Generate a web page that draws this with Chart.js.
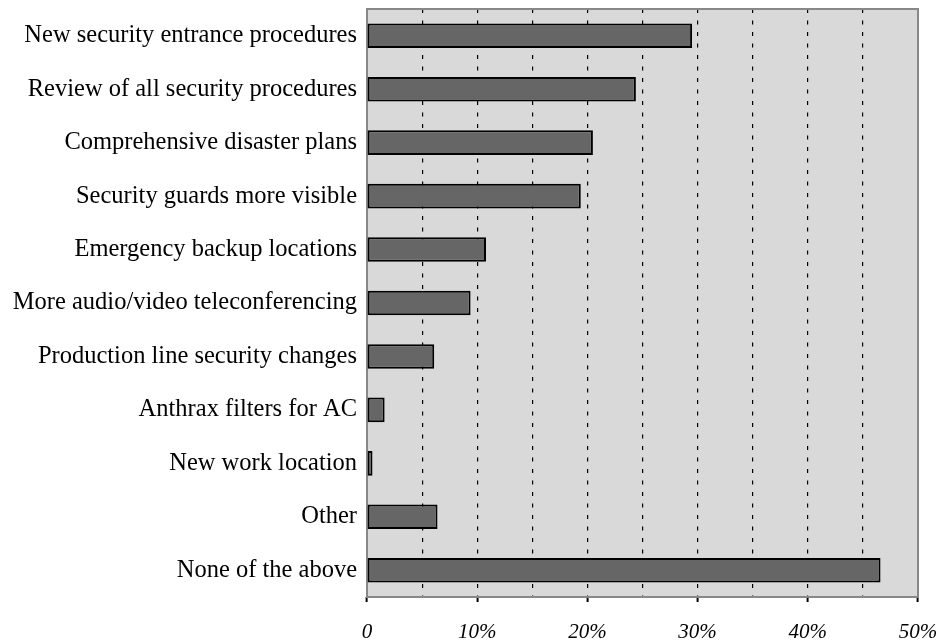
<!DOCTYPE html>
<html>
<head>
<meta charset="utf-8">
<script src="https://cdn.jsdelivr.net/npm/chart.js@4/dist/chart.umd.min.js"></script>
<style>
  html, body { margin: 0; padding: 0; background: #fff; }
  #wrap { width: 941px; height: 643px; }
</style>
</head>
<body>
<div id="wrap"><canvas id="chart" width="941" height="643"></canvas></div>
<script>
// Data (percent of respondents)
const categories = [
  'New security entrance procedures',
  'Review of all security procedures',
  'Comprehensive disaster plans',
  'Security guards more visible',
  'Emergency backup locations',
  'More audio/video teleconferencing',
  'Production line security changes',
  'Anthrax filters for AC',
  'New work location',
  'Other',
  'None of the above'
];
const values = [29.5, 24.4, 20.5, 19.4, 10.8, 9.4, 6.1, 1.6, 0.5, 6.4, 46.6];
const xTickLabels = ['0', '10%', '20%', '30%', '40%', '50%'];

// gray plot area with a gray frame
const plotBackground = {
  id: 'plotBackground',
  beforeDraw(chart) {
    const { ctx, chartArea: a } = chart;
    ctx.save();
    ctx.fillStyle = '#d9d9d9';
    ctx.fillRect(a.left, a.top, a.right - a.left, a.bottom - a.top);
    ctx.restore();
  },
  beforeDatasetsDraw(chart) {
    const { ctx, chartArea: a } = chart;
    ctx.save();
    ctx.strokeStyle = '#888888';
    ctx.lineWidth = 2;
    ctx.strokeRect(a.left, a.top, a.right - a.left, a.bottom - a.top);
    ctx.restore();
  }
};

const ctx = document.getElementById('chart').getContext('2d');
new Chart(ctx, {
  type: 'bar',
  data: {
    labels: categories,
    datasets: [{
      data: values,
      backgroundColor: '#666666',
      borderColor: '#000000',
      borderWidth: 2,
      borderSkipped: false,
      categoryPercentage: 1,
      barPercentage: 0.46
    }]
  },
  options: {
    indexAxis: 'y',
    responsive: false,
    animation: false,
    layout: { padding: { top: 9, right: 23, left: 0, bottom: 0 } },
    plugins: {
      legend: { display: false },
      tooltip: { enabled: false }
    },
    scales: {
      x: {
        min: 0,
        max: 50,
        afterFit: s => {
          s.height = 46;
          s.paddingLeft = 0;
          s.paddingRight = 0;
        },
        ticks: {
          stepSize: 5,
          autoSkip: false,
          maxRotation: 0,
          padding: 18,
          color: '#000',
          font: { family: 'Liberation Serif', size: 21, style: 'italic' },
          callback: v => (v % 10 === 0 ? xTickLabels[v / 10] : '')
        },
        border: { display: false, dash: [4, 7.5] },
        grid: {
          color: c => (c.tick && (c.tick.value === 0 || c.tick.value === 50) ? 'rgba(0,0,0,0)' : '#000'),
          lineWidth: 1.2,
          tickLength: 5,
          tickColor: c => (c.tick && c.tick.value % 10 === 0 ? '#000' : 'rgba(0,0,0,0)'),
          tickWidth: 2
        }
      },
      y: {
        afterFit: s => {
          s.width = 367;
          s.paddingTop = 0;
          s.paddingBottom = 0;
        },
        ticks: {
          padding: 10,
          color: '#000',
          font: { family: 'Liberation Serif', size: 24.5 }
        },
        border: { display: false },
        grid: { display: false, drawTicks: false }
      }
    }
  },
  plugins: [plotBackground]
});
</script>
</body>
</html>
